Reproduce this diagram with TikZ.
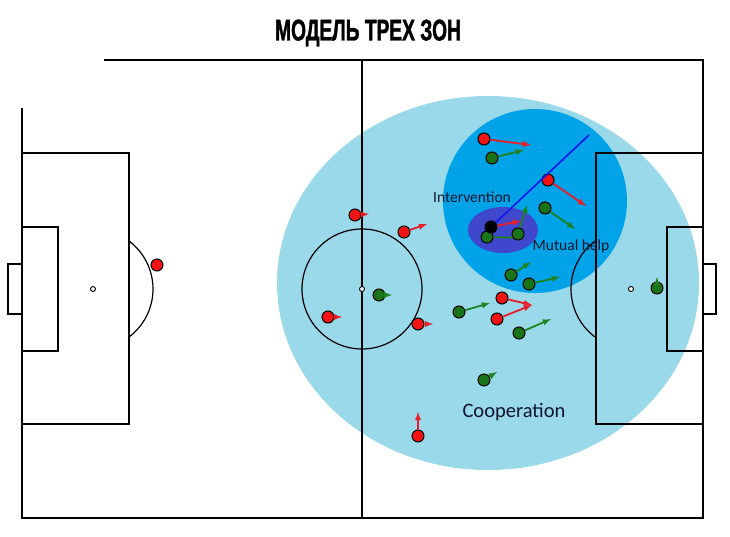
\documentclass[tikz,border=0pt]{standalone}
\usepackage{fontspec}
\newfontfamily\titlefont[FakeStretch=0.64, FakeBold=1.2]{Liberation Sans}
\newfontfamily\labelfont{Carlito}
\usetikzlibrary{arrows}
\definecolor{zoneout}{RGB}{153,217,234}
\definecolor{zonemid}{RGB}{0,162,232}
\definecolor{zonein}{RGB}{63,72,204}
\definecolor{teamred}{RGB}{240,20,20}
\definecolor{teamgreen}{RGB}{25,115,25}
\definecolor{arrred}{RGB}{232,30,40}
\definecolor{arrgreen}{RGB}{30,130,30}
\definecolor{passblue}{RGB}{20,20,235}
\definecolor{labelink}{RGB}{15,22,45}

\begin{document}
\begin{tikzpicture}[x=1pt, y=-1pt]
    \tikzstyle{every node} = [shape=circle, inner sep=0pt]
    \tikzstyle{pitch} = [line width=2pt]
    \tikzstyle{pitch thin} = [line width=1.2pt]
    \tikzstyle{spot} = [draw, fill=white, line width=0.9pt, minimum size=5pt]
    \tikzstyle{redp} = [draw=black, line width=1pt, fill=teamred, minimum size=12pt]
    \tikzstyle{greenp} = [draw=black, line width=1pt, fill=teamgreen, minimum size=12pt]
    \tikzstyle{ballp} = [draw=black, line width=1pt, fill=black, minimum size=12pt]
    \tikzstyle{redmove} = [arrred, line width=1.8pt, -latex]
    \tikzstyle{greenmove} = [arrgreen, line width=1.8pt, -latex]
    \tikzstyle{pass} = [passblue, line width=1.6pt]
    \tikzstyle{zone label} = [text=labelink, font=\labelfont]

    \useasboundingbox (0,0) rectangle (730,537);

    \fill [zoneout] (488,283) ellipse (211 and 187);
    \fill [zonemid] (535,201) circle (92);
    \fill [zonein] (503,230) ellipse (35 and 23);

    \draw [pitch] (104,60) -- (703,60) -- (703,518) -- (22,518) -- (22,108);
    \draw [pitch] (362,60) -- (362,518);
    \draw [pitch] (22,153) rectangle (129,424);
    \draw [pitch] (22,227) rectangle (58,351);
    \draw [pitch thin] (22,264) rectangle (8,314);
    \draw [pitch] (703,153) rectangle (596,424);
    \draw [pitch] (703,227) rectangle (667,351);
    \draw [pitch thin] (703,264) rectangle (716,314);

    \draw [pitch thin] (362,289) circle (60);
    \draw [pitch thin] (93,289) ++(-53:60) arc (-53:53:60);
    \draw [pitch thin] (631,289) ++(127:60) arc (127:233:60);
    \node [spot] (spot-c) at (362,289) {};
    \node [spot] (spot-l) at (93,289) {};
    \node [spot] (spot-r) at (631,289) {};

    \node [redp] (r0) at (157,265) {};
    \foreach \n/\px/\py/\ax/\ay in {1/355/215/369/214, 2/404/232/427/224, 3/328/317/342/317,
        4/418/324/433/324, 5/502/298/532/305, 6/497/319/532/305, 7/418/436/418/412,
        8/484/139/531/145, 9/548/180/586/206} {
      \node [redp] (r\n) at (\px,\py) {};
      \coordinate (r\n-to) at (\ax,\ay);
      \draw [redmove] (r\n) -- (r\n-to);
    }

    \foreach \n/\px/\py/\ax/\ay in {1/379/295/392/295, 2/459/312/490/303, 3/519/333/551/319,
        4/484/380/497/372, 5/511/275/531/262, 6/529/284/560/277, 7/492/158/524/150,
        8/545/208/575/229, 9/487/237/525/238, 10/518/234/527/205, 11/657/288/657/277} {
      \node [greenp] (g\n) at (\px,\py) {};
      \coordinate (g\n-to) at (\ax,\ay);
      \draw [greenmove] (g\n) -- (g\n-to);
    }

    \node [ballp] (ball) at (491,227) {};
    \coordinate (ball-to) at (521,221);
    \coordinate (pass-to) at (589,135);
    \draw [redmove] (ball) -- (ball-to);
    \draw [pass] (ball) -- (pass-to);

    \node [zone label, font=\labelfont\fontsize{15.5}{18}\selectfont] (interv) at (472,197) {Intervention};
    \node [zone label, font=\labelfont\fontsize{15.5}{18}\selectfont] (help) at (571,246) {Mutual help};
    \node [zone label, font=\labelfont\fontsize{20.5}{24}\selectfont] (coop) at (514,412) {Cooperation};

    \node [font=\titlefont\bfseries\fontsize{30}{33}\selectfont] (title) at (368,33) {МОДЕЛЬ ТРЕХ ЗОН};
\end{tikzpicture}
\end{document}
